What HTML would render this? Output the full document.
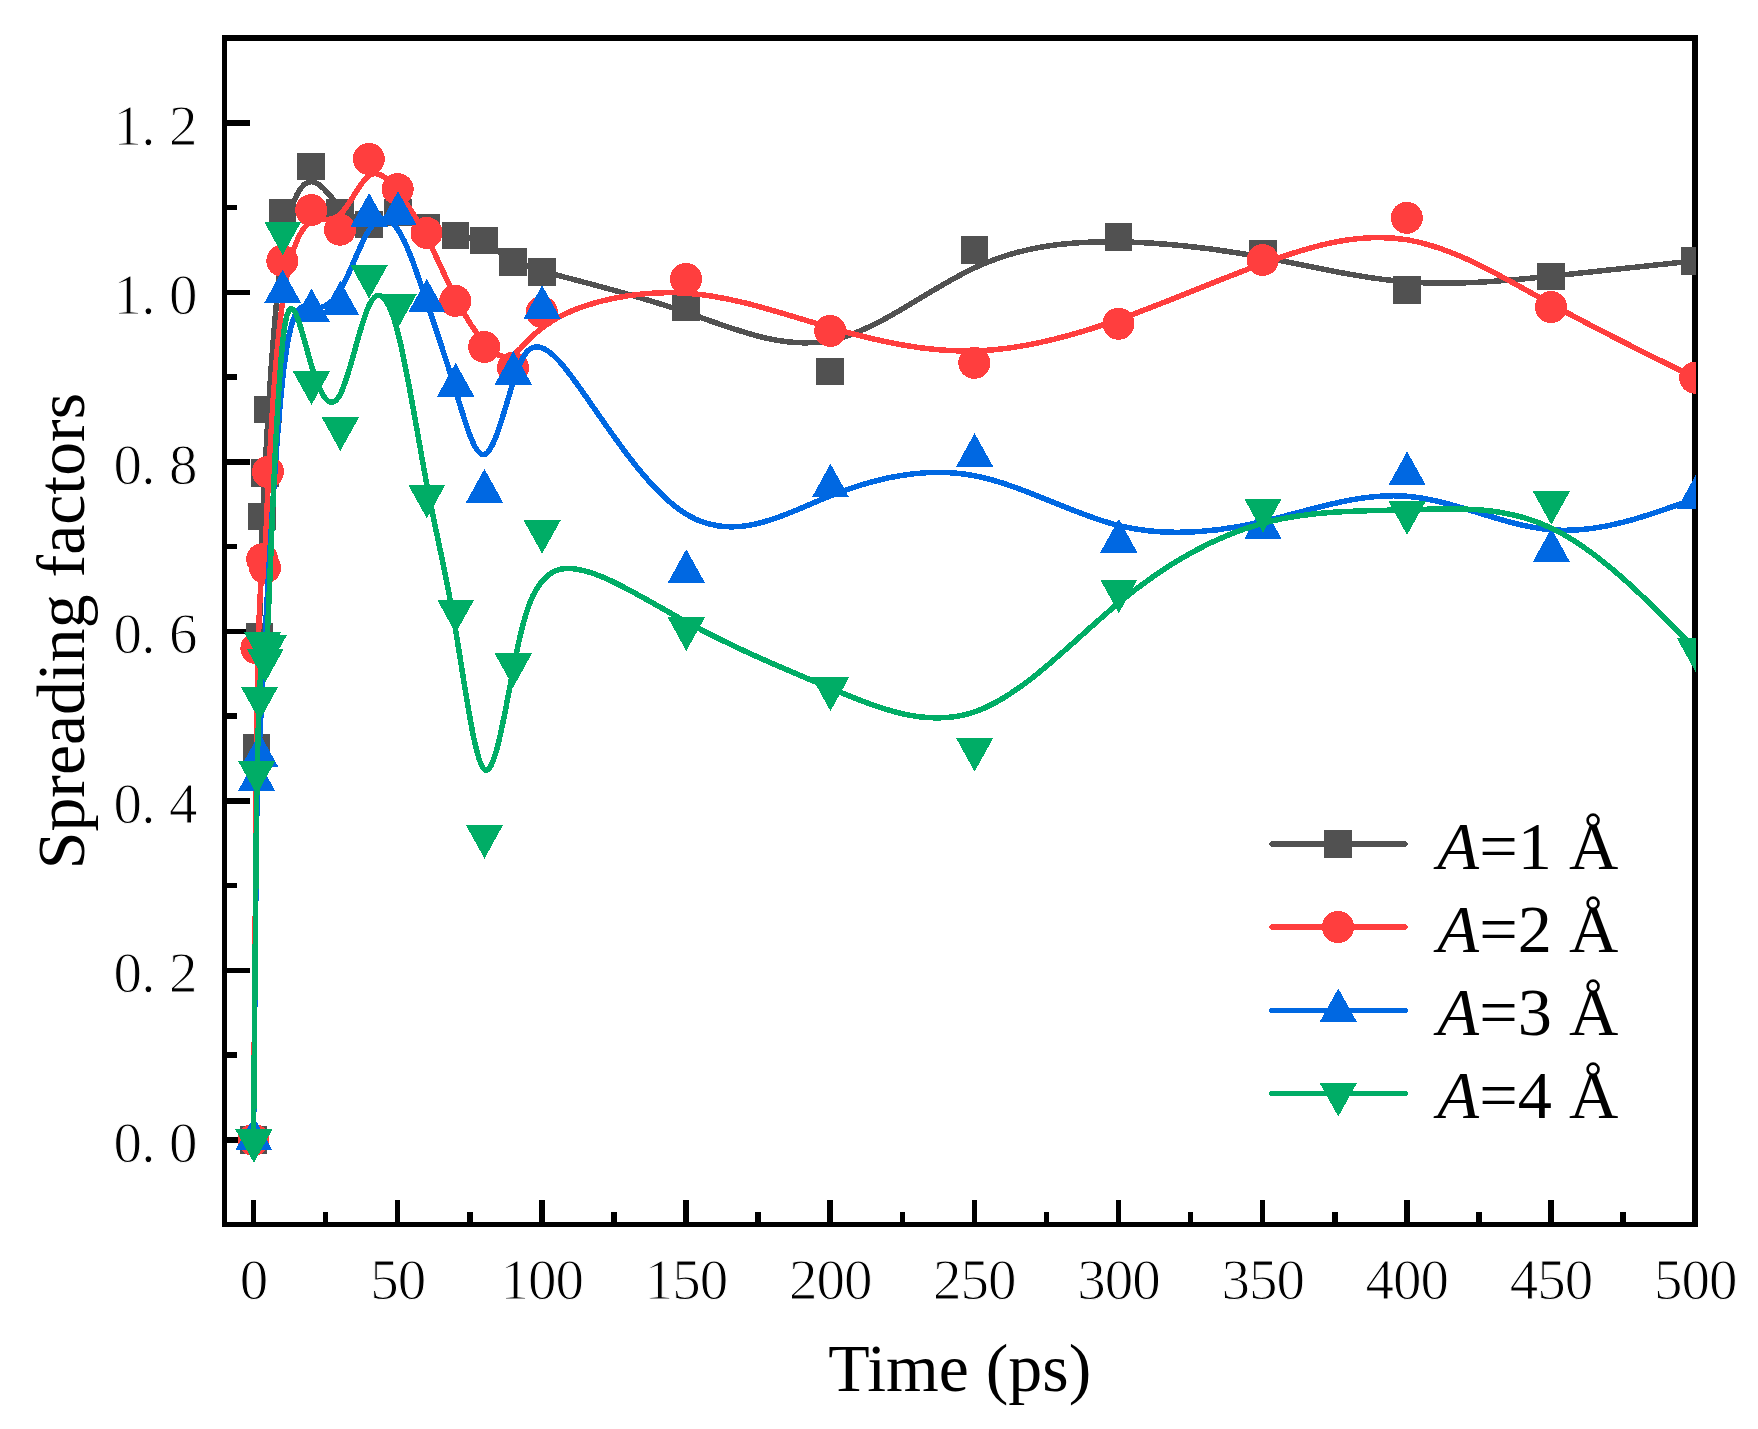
<!DOCTYPE html>
<html lang="en"><head><meta charset="utf-8"><title>Spreading factors vs time</title>
<style>html,body{margin:0;padding:0;background:#fff}svg{display:block}text{font-family:"Liberation Serif","DejaVu Serif",serif;fill:#000}.tk{font-size:57px;stroke:#fff;stroke-width:1px;paint-order:fill stroke}.ti{font-size:67.8px}.lg{font-size:68.3px}</style></head><body>
<svg width="1758" height="1429" viewBox="0 0 1758 1429">
<rect width="1758" height="1429" fill="#fff"/>
<defs><clipPath id="pa"><rect x="224.0" y="38.0" width="1472.0" height="1187.0"/></clipPath></defs>
<g fill="#000" shape-rendering="crispEdges">
<rect x="222" y="35" width="5" height="1192"/>
<rect x="1692" y="35" width="6" height="1192"/>
<rect x="222" y="35" width="1476" height="6"/>
<rect x="222" y="1222" width="1476" height="5"/>
<rect x="250.75" y="1200" width="5.5" height="23"/>
<rect x="394.92" y="1200" width="5.5" height="23"/>
<rect x="539.09" y="1200" width="5.5" height="23"/>
<rect x="683.25" y="1200" width="5.5" height="23"/>
<rect x="827.42" y="1200" width="5.5" height="23"/>
<rect x="971.59" y="1200" width="5.5" height="23"/>
<rect x="1115.75" y="1200" width="5.5" height="23"/>
<rect x="1259.92" y="1200" width="5.5" height="23"/>
<rect x="1404.09" y="1200" width="5.5" height="23"/>
<rect x="1548.25" y="1200" width="5.5" height="23"/>
<rect x="1692.42" y="1200" width="5.5" height="23"/>
<rect x="322.84" y="1212" width="5.5" height="11"/>
<rect x="467.00" y="1212" width="5.5" height="11"/>
<rect x="611.17" y="1212" width="5.5" height="11"/>
<rect x="755.34" y="1212" width="5.5" height="11"/>
<rect x="899.50" y="1212" width="5.5" height="11"/>
<rect x="1043.67" y="1212" width="5.5" height="11"/>
<rect x="1187.84" y="1212" width="5.5" height="11"/>
<rect x="1332.00" y="1212" width="5.5" height="11"/>
<rect x="1476.17" y="1212" width="5.5" height="11"/>
<rect x="1620.34" y="1212" width="5.5" height="11"/>
<rect x="226" y="1137.00" width="24" height="5.5"/>
<rect x="226" y="967.50" width="24" height="5.5"/>
<rect x="226" y="798.00" width="24" height="5.5"/>
<rect x="226" y="628.50" width="24" height="5.5"/>
<rect x="226" y="459.00" width="24" height="5.5"/>
<rect x="226" y="289.50" width="24" height="5.5"/>
<rect x="226" y="120.00" width="24" height="5.5"/>
<rect x="226" y="1052.25" width="11" height="5.5"/>
<rect x="226" y="882.75" width="11" height="5.5"/>
<rect x="226" y="713.25" width="11" height="5.5"/>
<rect x="226" y="543.75" width="11" height="5.5"/>
<rect x="226" y="374.25" width="11" height="5.5"/>
<rect x="226" y="204.75" width="11" height="5.5"/>
</g>
<g clip-path="url(#pa)" shape-rendering="crispEdges">
<path d="M253.50 1139.75C254.46 1008.95 255.43 878.16 256.39 794.25C257.35 710.35 258.31 673.34 259.27 634.87C260.23 596.39 261.19 556.44 262.15 529.18C263.11 501.92 264.08 487.34 265.04 469.50C266.00 451.66 266.96 430.56 269.84 387.16C272.73 343.75 277.53 278.04 284.74 237.52C291.95 196.99 301.56 181.65 311.17 181.69C320.78 181.74 330.39 197.16 340.00 206.88C349.61 216.60 359.23 220.61 368.84 220.61C378.45 220.61 388.06 216.60 397.67 217.06C407.28 217.53 416.89 222.47 426.50 226.29C436.11 230.10 445.73 232.78 455.34 234.97C464.95 237.16 474.56 238.86 484.17 243.28C493.78 247.70 503.39 254.85 513.00 260.07C522.61 265.30 532.23 268.60 561.06 276.20C589.89 283.80 637.95 295.70 686.00 312.28C734.06 328.86 782.11 350.13 830.17 340.52C878.23 330.90 926.28 290.39 974.34 267.94C1022.39 245.50 1070.45 241.12 1118.50 241.84C1166.56 242.56 1214.61 248.38 1262.67 257.26C1310.73 266.15 1358.78 278.10 1406.84 281.83C1454.89 285.55 1502.95 281.06 1551.00 276.19C1599.06 271.32 1647.11 266.06 1695.17 260.81" fill="none" stroke="#515151" stroke-width="5.5" stroke-linejoin="round" stroke-linecap="round"/>
<g fill="#515151">
<rect x="239.7" y="1126.0" width="27.6" height="27.6"/>
<rect x="242.6" y="733.6" width="27.6" height="27.6"/>
<rect x="245.5" y="622.5" width="27.6" height="27.6"/>
<rect x="248.4" y="502.7" width="27.6" height="27.6"/>
<rect x="251.2" y="459.0" width="27.6" height="27.6"/>
<rect x="254.1" y="395.7" width="27.6" height="27.6"/>
<rect x="268.5" y="198.5" width="27.6" height="27.6"/>
<rect x="297.4" y="152.5" width="27.6" height="27.6"/>
<rect x="326.2" y="198.8" width="27.6" height="27.6"/>
<rect x="355.0" y="210.8" width="27.6" height="27.6"/>
<rect x="383.9" y="198.8" width="27.6" height="27.6"/>
<rect x="412.7" y="213.6" width="27.6" height="27.6"/>
<rect x="441.5" y="221.7" width="27.6" height="27.6"/>
<rect x="470.4" y="226.8" width="27.6" height="27.6"/>
<rect x="499.2" y="248.2" width="27.6" height="27.6"/>
<rect x="528.0" y="258.1" width="27.6" height="27.6"/>
<rect x="672.2" y="293.8" width="27.6" height="27.6"/>
<rect x="816.4" y="357.6" width="27.6" height="27.6"/>
<rect x="960.5" y="236.1" width="27.6" height="27.6"/>
<rect x="1104.7" y="222.9" width="27.6" height="27.6"/>
<rect x="1248.9" y="240.4" width="27.6" height="27.6"/>
<rect x="1393.0" y="276.2" width="27.6" height="27.6"/>
<rect x="1537.2" y="262.8" width="27.6" height="27.6"/>
<rect x="1681.4" y="247.0" width="27.6" height="27.6"/>
</g>
<path d="M253.50 1139.75C254.46 975.90 255.43 812.05 256.87 715.29C258.31 618.54 260.23 588.88 261.67 575.46C263.11 562.04 264.08 564.86 265.04 550.31C266.00 535.77 266.96 503.84 269.84 452.71C272.73 401.58 277.53 331.24 284.74 287.60C291.95 243.97 301.56 227.05 311.17 221.85C320.78 216.65 330.39 223.18 340.00 214.63C349.61 206.09 359.23 182.47 368.84 175.72C378.45 168.97 388.06 179.08 397.67 191.43C407.28 203.77 416.89 218.35 426.50 236.95C436.11 255.55 445.73 278.18 455.34 297.18C464.95 316.18 474.56 331.55 484.17 342.69C493.78 353.84 503.39 360.76 513.00 354.95C522.61 349.15 532.23 330.61 561.06 315.84C589.89 301.06 637.95 290.05 686.00 293.18C734.06 296.32 782.11 313.61 830.17 327.56C878.23 341.52 926.28 352.14 974.34 350.94C1022.39 349.74 1070.45 336.72 1118.50 319.60C1166.56 302.48 1214.61 281.26 1262.67 263.62C1310.73 245.98 1358.78 231.91 1406.84 239.75C1454.89 247.59 1502.95 277.33 1551.00 303.97C1599.06 330.61 1647.11 354.15 1695.17 377.68" fill="none" stroke="#FF3E3E" stroke-width="5.5" stroke-linejoin="round" stroke-linecap="round"/>
<g fill="#FF3E3E">
<circle cx="253.5" cy="1139.8" r="16.0"/>
<circle cx="256.4" cy="648.2" r="16.0"/>
<circle cx="262.2" cy="559.2" r="16.0"/>
<circle cx="265.0" cy="567.7" r="16.0"/>
<circle cx="267.9" cy="471.9" r="16.0"/>
<circle cx="282.3" cy="260.9" r="16.0"/>
<circle cx="311.2" cy="210.1" r="16.0"/>
<circle cx="340.0" cy="229.7" r="16.0"/>
<circle cx="368.8" cy="158.9" r="16.0"/>
<circle cx="397.7" cy="189.2" r="16.0"/>
<circle cx="426.5" cy="232.9" r="16.0"/>
<circle cx="455.3" cy="300.8" r="16.0"/>
<circle cx="484.2" cy="346.9" r="16.0"/>
<circle cx="513.0" cy="367.7" r="16.0"/>
<circle cx="541.8" cy="312.1" r="16.0"/>
<circle cx="686.0" cy="279.0" r="16.0"/>
<circle cx="830.2" cy="330.9" r="16.0"/>
<circle cx="974.3" cy="362.8" r="16.0"/>
<circle cx="1118.5" cy="323.7" r="16.0"/>
<circle cx="1262.7" cy="260.0" r="16.0"/>
<circle cx="1406.8" cy="217.8" r="16.0"/>
<circle cx="1551.0" cy="307.1" r="16.0"/>
<circle cx="1695.2" cy="377.7" r="16.0"/>
</g>
<path d="M253.50 1139.75C254.46 1019.97 255.43 900.19 256.39 836.25C257.35 772.30 258.31 764.19 262.63 682.91C266.96 601.62 274.65 447.14 283.30 373.09C291.95 299.03 301.56 305.39 311.17 307.29C320.78 309.20 330.39 306.66 340.00 290.70C349.61 274.74 359.23 245.36 368.84 230.38C378.45 215.41 388.06 214.84 397.67 229.15C407.28 243.46 416.89 272.64 426.50 301.25C436.11 329.85 445.73 357.87 455.34 389.57C464.95 421.27 474.56 456.64 484.17 454.66C493.78 452.68 503.39 413.36 513.00 382.75C522.61 352.14 532.23 330.25 561.06 363.30C589.89 396.35 637.95 484.35 686.00 514.08C734.06 543.82 782.11 515.28 830.17 495.95C878.23 476.61 926.28 466.47 974.34 475.69C1022.39 484.92 1070.45 513.50 1118.50 525.50C1166.56 537.49 1214.61 532.88 1262.67 521.61C1310.73 510.34 1358.78 492.40 1406.84 496.26C1454.89 500.11 1502.95 525.76 1551.00 529.78C1599.06 533.79 1647.11 516.16 1695.17 498.53" fill="none" stroke="#0068E2" stroke-width="5.5" stroke-linejoin="round" stroke-linecap="round"/>
<g fill="#0068E2">
<path d="M253.8 1116.7L272.5 1150.3L235.2 1150.3Z"/>
<path d="M256.7 757.3L275.3 791.0L238.0 791.0Z"/>
<path d="M259.6 733.0L278.2 766.7L240.9 766.7Z"/>
<path d="M282.6 269.6L301.3 303.3L264.0 303.3Z"/>
<path d="M311.5 288.6L330.1 322.3L292.8 322.3Z"/>
<path d="M340.3 281.0L359.0 314.7L321.7 314.7Z"/>
<path d="M369.1 192.9L387.8 226.6L350.5 226.6Z"/>
<path d="M398.0 191.2L416.6 224.9L379.3 224.9Z"/>
<path d="M426.8 278.7L445.5 312.4L408.2 312.4Z"/>
<path d="M455.6 362.8L474.3 396.5L437.0 396.5Z"/>
<path d="M484.5 468.9L503.1 502.6L465.8 502.6Z"/>
<path d="M513.3 350.9L532.0 384.6L494.7 384.6Z"/>
<path d="M542.1 285.3L560.8 319.0L523.5 319.0Z"/>
<path d="M686.3 549.2L705.0 582.9L667.7 582.9Z"/>
<path d="M830.5 463.7L849.1 497.4L811.8 497.4Z"/>
<path d="M974.6 433.2L993.3 466.9L956.0 466.9Z"/>
<path d="M1118.8 519.0L1137.5 552.7L1100.2 552.7Z"/>
<path d="M1263.0 505.2L1281.6 538.9L1244.3 538.9Z"/>
<path d="M1407.1 451.4L1425.8 485.1L1388.5 485.1Z"/>
<path d="M1551.3 528.3L1570.0 562.0L1532.7 562.0Z"/>
<path d="M1695.5 475.4L1714.1 509.1L1676.8 509.1Z"/>
</g>
<path d="M253.50 1139.75C254.46 1017.00 255.43 894.26 256.39 820.52C257.35 746.79 258.31 722.07 259.27 700.59C260.23 679.11 261.19 660.86 262.15 654.50C263.11 648.14 264.08 653.68 265.04 654.19C266.00 654.70 266.96 650.18 269.84 578.99C272.73 507.80 277.53 369.94 284.74 325.98C291.95 282.02 301.56 331.97 311.17 364.61C320.78 397.26 330.39 412.60 340.00 394.88C349.61 377.17 359.23 326.40 368.84 305.91C378.45 285.41 388.06 295.19 397.67 331.80C407.28 368.41 416.89 431.86 426.50 482.71C436.11 533.56 445.73 571.81 455.34 628.51C464.95 685.21 474.56 760.35 484.17 769.34C493.78 778.32 503.39 721.14 513.00 670.35C522.61 619.55 532.23 575.15 561.06 569.13C589.89 563.11 637.95 595.49 686.00 621.70C734.06 647.92 782.11 667.98 830.17 688.07C878.23 708.17 926.28 728.32 974.34 712.00C1022.39 695.69 1070.45 642.92 1118.50 603.08C1166.56 563.25 1214.61 536.36 1262.67 523.32C1310.73 510.28 1358.78 511.10 1406.84 509.80C1454.89 508.50 1502.95 505.09 1551.00 527.88C1599.06 550.68 1647.11 599.69 1695.17 648.71" fill="none" stroke="#00AD66" stroke-width="5.5" stroke-linejoin="round" stroke-linecap="round"/>
<g fill="#00AD66">
<path d="M253.8 1162.8L272.5 1129.2L235.2 1129.2Z"/>
<path d="M256.7 794.6L275.3 760.9L238.0 760.9Z"/>
<path d="M259.6 720.5L278.2 686.8L240.9 686.8Z"/>
<path d="M262.5 665.7L281.1 632.0L243.8 632.0Z"/>
<path d="M265.3 682.3L284.0 648.6L246.7 648.6Z"/>
<path d="M268.2 668.8L286.9 635.1L249.6 635.1Z"/>
<path d="M282.6 255.2L301.3 221.5L264.0 221.5Z"/>
<path d="M311.5 405.0L330.1 371.3L292.8 371.3Z"/>
<path d="M340.3 451.0L359.0 417.3L321.7 417.3Z"/>
<path d="M369.1 298.7L387.8 265.0L350.5 265.0Z"/>
<path d="M398.0 328.1L416.6 294.4L379.3 294.4Z"/>
<path d="M426.8 518.4L445.5 484.7L408.2 484.7Z"/>
<path d="M455.6 633.2L474.3 599.5L437.0 599.5Z"/>
<path d="M484.5 858.6L503.1 824.9L465.8 824.9Z"/>
<path d="M513.3 687.1L532.0 653.4L494.7 653.4Z"/>
<path d="M542.1 553.8L560.8 520.1L523.5 520.1Z"/>
<path d="M686.3 651.0L705.0 617.3L667.7 617.3Z"/>
<path d="M830.5 711.1L849.1 677.4L811.8 677.4Z"/>
<path d="M974.6 771.6L993.3 737.9L956.0 737.9Z"/>
<path d="M1118.8 613.2L1137.5 579.5L1100.2 579.5Z"/>
<path d="M1263.0 532.6L1281.6 498.9L1244.3 498.9Z"/>
<path d="M1407.1 535.0L1425.8 501.3L1388.5 501.3Z"/>
<path d="M1551.3 524.8L1570.0 491.1L1532.7 491.1Z"/>
<path d="M1695.5 671.8L1714.1 638.1L1676.8 638.1Z"/>
</g>
</g>
<g class="tk">
<text x="239.8" y="1299">0</text>
<text x="370.2 397.7" y="1299">50</text>
<text x="500.6 528.1 555.6" y="1299">100</text>
<text x="644.8 672.3 699.8" y="1299">150</text>
<text x="788.9 816.4 843.9" y="1299">200</text>
<text x="933.1 960.6 988.1" y="1299">250</text>
<text x="1077.3 1104.8 1132.3" y="1299">300</text>
<text x="1221.4 1248.9 1276.4" y="1299">350</text>
<text x="1365.6 1393.1 1420.6" y="1299">400</text>
<text x="1509.8 1537.3 1564.8" y="1299">450</text>
<text x="1653.9 1681.4 1708.9" y="1299">500</text>
<text x="113.6 141.2 169.1" y="1161.7">0.0</text>
<text x="113.6 141.2 169.1" y="992.1">0.2</text>
<text x="113.6 141.2 169.1" y="822.6">0.4</text>
<text x="113.6 141.2 169.1" y="653.1">0.6</text>
<text x="113.6 141.2 169.1" y="483.7">0.8</text>
<text x="113.6 141.2 169.1" y="314.1">1.0</text>
<text x="113.6 141.2 169.1" y="144.7">1.2</text>
</g>
<text class="ti" x="959.7" y="1391" text-anchor="middle">Time (ps)</text>
<text class="ti" transform="translate(83.7 631.1) rotate(-90)" text-anchor="middle">Spreading factors</text>
<g shape-rendering="crispEdges">
<line x1="1272" y1="844.0" x2="1405" y2="844.0" stroke="#515151" stroke-width="5.5" stroke-linecap="round"/>
<g fill="#515151"><rect x="1324.2" y="830.2" width="27.6" height="27.6"/></g>
<line x1="1272" y1="927.0" x2="1405" y2="927.0" stroke="#FF3E3E" stroke-width="5.5" stroke-linecap="round"/>
<g fill="#FF3E3E"><circle cx="1338.0" cy="927.0" r="16.0"/></g>
<line x1="1272" y1="1010.5" x2="1405" y2="1010.5" stroke="#0068E2" stroke-width="5.5" stroke-linecap="round"/>
<g fill="#0068E2"><path d="M1338.3 988.4L1357.0 1022.1L1319.6 1022.1Z"/></g>
<line x1="1272" y1="1093.5" x2="1405" y2="1093.5" stroke="#00AD66" stroke-width="5.5" stroke-linecap="round"/>
<g fill="#00AD66"><path d="M1338.3 1116.6L1357.0 1082.9L1319.6 1082.9Z"/></g>
</g>
<g class="lg">
<text x="1437.2" y="868.5"><tspan font-style="italic">A</tspan><tspan x="1479.3">=1 Å</tspan></text>
<text x="1437.2" y="951.5"><tspan font-style="italic">A</tspan><tspan x="1479.3">=2 Å</tspan></text>
<text x="1437.2" y="1035.0"><tspan font-style="italic">A</tspan><tspan x="1479.3">=3 Å</tspan></text>
<text x="1437.2" y="1118.0"><tspan font-style="italic">A</tspan><tspan x="1479.3">=4 Å</tspan></text>
</g>
</svg></body></html>
